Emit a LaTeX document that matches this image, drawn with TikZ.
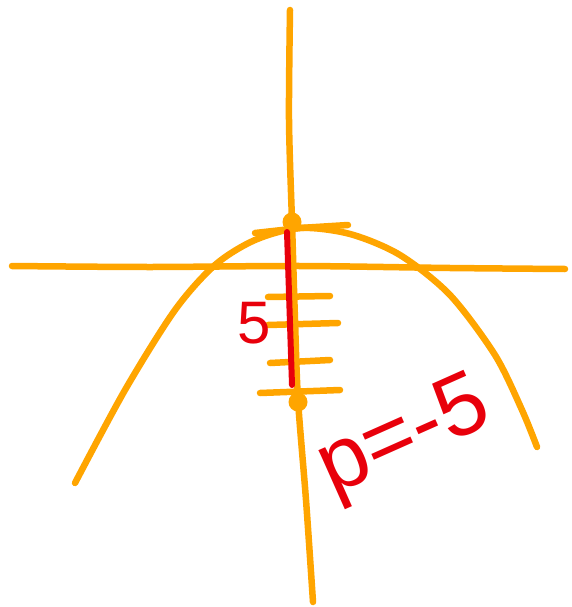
\documentclass[tikz,border=0pt]{standalone}
\usepackage{fontspec}
\setmainfont{Liberation Sans}
\definecolor{org}{HTML}{FFA500}
\definecolor{rd}{HTML}{E8000B}
\begin{document}
\begin{tikzpicture}[x=1pt,y=-1pt,
  pen/.style={draw=org,line width=6.5pt,line cap=round,line join=round},
  rpen/.style={draw=rd,line width=6pt,line cap=round},
  dot/.style={circle,fill=org,inner sep=0pt,minimum size=19pt},
  lbl/.style={text=rd,inner sep=0pt}]
\useasboundingbox (0,0) rectangle (572,607);
% axes
\draw[pen] plot[smooth] coordinates {(290,10) (289,120) (292,222) (295,320) (298,400) (306,500) (313,602)};
\draw[pen] plot[smooth] coordinates {(12,266) (150,267) (300,266) (450,268) (565,269)};
% parabola
\draw[pen] plot[smooth] coordinates {(75,483) (125,390) (175,310) (215,265) (255,240) (300,228) (350,234) (400,255) (450,295) (495,355) (522,410) (537,447)};
% vertex tick
\draw[pen] (255,233) -- (300,228) -- (348,225);
% scale ticks
\draw[pen] (268,297) -- (330,296);
\draw[pen] (268,325) -- (338,323);
\draw[pen] (270,363) -- (330,360);
\draw[pen] (260,393) -- (340,390);
% points
\node[dot] (v) at (292,222) {};
\node[dot] (f) at (298,402) {};
% distance
\coordinate (r1) at (287,232);
\coordinate (r2) at (292,385);
\draw[rpen] (r1) -- (r2);
\node[lbl,font=\fontsize{60}{62}\selectfont] (s) at (254,323) {5};
\node[lbl,rotate=24,font=\fontsize{88}{90}\selectfont] (p) at (405,440) {p=-5};
\end{tikzpicture}
\end{document}
